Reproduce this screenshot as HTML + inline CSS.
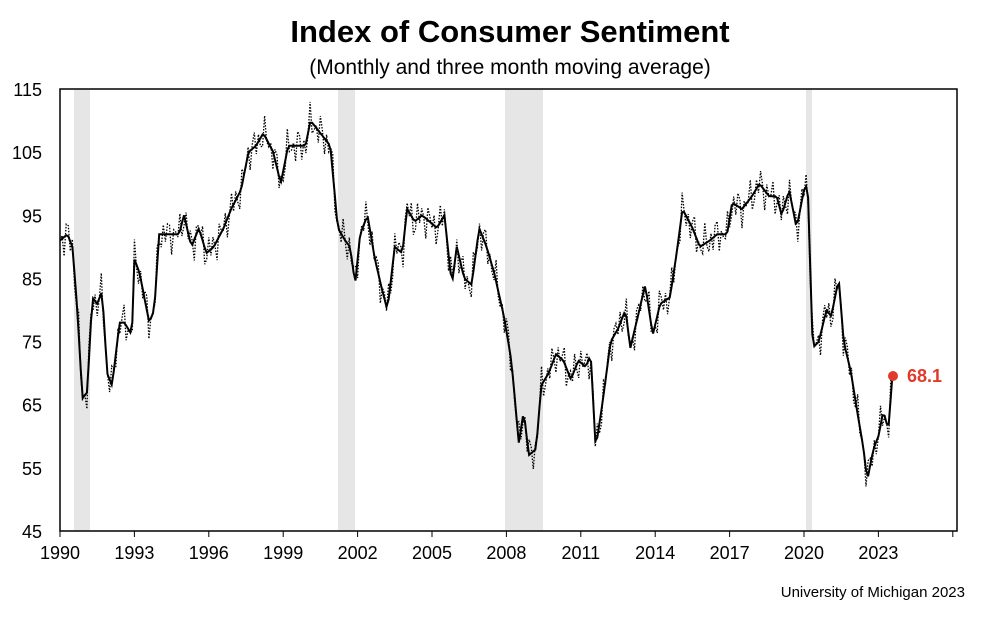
<!DOCTYPE html>
<html><head><meta charset="utf-8"><style>
body{margin:0;background:#fff;width:1000px;height:623px;overflow:hidden;font-family:"Liberation Sans",Arial,sans-serif}
</style></head><body>
<svg id="s" width="1000" height="623" xmlns="http://www.w3.org/2000/svg" font-family="Liberation Sans, Arial, sans-serif">
<text x="510" y="42" text-anchor="middle" font-size="31" font-weight="bold">Index of Consumer Sentiment</text>
<text x="510" y="74" text-anchor="middle" font-size="21">(Monthly and three month moving average)</text>
<g fill="#e6e6e6">
<rect x="74" y="89" width="16" height="442"/>
<rect x="338" y="89" width="17" height="442"/>
<rect x="505" y="89" width="38" height="442"/>
<rect x="806" y="89" width="6" height="442"/>
</g>
<rect x="60" y="89" width="897" height="442" fill="none" stroke="#000" stroke-width="1.5"/>
<g id="yl" font-size="18" text-anchor="end"></g>
<g id="xl" font-size="18" text-anchor="middle"></g>
<path id="dot" fill="none" stroke="#000" stroke-width="1.3" stroke-dasharray="1.5,1.5"/>
<path id="ln" fill="none" stroke="#000" stroke-width="2"/>
<circle cx="893" cy="376" r="5" fill="#e03a2a"/>
<text x="907" y="382" font-size="18" font-weight="bold" fill="#e03a2a">68.1</text>
<text x="965" y="597" text-anchor="end" font-size="15">University of Michigan 2023</text>
</svg>
<script>
var X=function(t){return 60+(t-1990)*24.8},Y=function(v){return 89+(115-v)*6.314};
var yl=document.getElementById('yl'),xl=document.getElementById('xl'),NS='http://www.w3.org/2000/svg';
for(var v=45;v<=115;v+=10){var t=document.createElementNS(NS,'text');t.setAttribute('x',42);t.setAttribute('y',Y(v)+7);t.textContent=v;yl.appendChild(t);}
for(var yr=1990;yr<=2026;yr+=3){var l=document.createElementNS(NS,'line');l.setAttribute('x1',X(yr));l.setAttribute('x2',X(yr));l.setAttribute('y1',531);l.setAttribute('y2',537);l.setAttribute('stroke','#000');xl.appendChild(l);
if(yr<2026){var t=document.createElementNS(NS,'text');t.setAttribute('x',X(yr));t.setAttribute('y',559);t.textContent=yr;xl.appendChild(t);}}
var a=[[1990,91],[1990.3,92],[1990.5,90],[1990.7,80],[1990.9,66],[1991.1,67],[1991.3,82],[1991.5,81],[1991.7,83],[1991.9,70],[1992.1,68],[1992.4,78],[1992.6,78],[1992.9,76],[1993,88],[1993.2,86],[1993.6,78],[1993.8,80],[1994,92],[1994.4,92],[1994.8,92],[1995,95],[1995.3,90],[1995.6,93],[1995.9,89],[1996.2,90],[1996.6,93],[1996.9,96],[1997.3,99],[1997.6,105],[1997.9,106],[1998.2,108],[1998.6,105],[1998.9,100],[1999.2,106],[1999.6,106],[1999.9,106],[2000.1,110],[2000.5,108],[2000.9,106],[2001.2,93],[2001.5,91],[2001.7,90],[2001.9,84],[2002.1,92],[2002.4,95],[2002.7,88],[2003,83],[2003.2,80],[2003.5,90],[2003.8,89],[2004,96],[2004.3,94],[2004.6,95],[2004.9,94],[2005.2,93],[2005.5,95],[2005.8,84],[2006,90],[2006.3,85],[2006.6,84],[2006.9,93],[2007.2,90],[2007.5,86],[2007.9,79],[2008.2,72],[2008.5,59],[2008.7,64],[2008.9,57],[2009.2,58],[2009.4,68],[2009.7,70],[2010,73],[2010.3,72],[2010.6,69],[2010.9,72],[2011.2,71],[2011.4,73],[2011.6,58],[2011.9,66],[2012.2,75],[2012.5,77],[2012.8,80],[2013,74],[2013.3,79],[2013.6,84],[2013.9,76],[2014.2,81],[2014.6,82],[2014.9,90],[2015.1,96],[2015.5,93],[2015.8,90],[2016.2,91],[2016.5,92],[2016.9,92],[2017.1,97],[2017.5,96],[2017.9,98],[2018.2,100],[2018.6,98],[2018.9,98],[2019.1,95],[2019.4,99],[2019.7,93],[2020,99],[2020.15,100],[2020.35,74],[2020.6,75],[2020.9,80],[2021.1,79],[2021.4,85],[2021.6,75],[2021.9,70],[2022.1,65],[2022.4,58],[2022.55,53],[2022.8,58],[2023,60],[2023.2,64],[2023.4,61],[2023.55,68.8]];
function f(t){for(var i=0;i<a.length-1;i++){if(t<=a[i+1][0]){var r=(t-a[i][0])/(a[i+1][0]-a[i][0]);return a[i][1]+r*(a[i+1][1]-a[i][1]);}}return a[a.length-1][1];}
var d1='',d2='';for(var m=0;m<=403;m++){var t=1990+m/12;if(t>2023.55)t=2023.55;var v=f(t),w=v+2.2*Math.sin(m*2.3)+1.2*Math.sin(m*5.1);
d1+=(m?'L':'M')+X(t).toFixed(1)+','+Y(v).toFixed(1);d2+=(m?'L':'M')+X(t).toFixed(1)+','+Y(w).toFixed(1);}
document.getElementById('ln').setAttribute('d',d1);document.getElementById('dot').setAttribute('d',d2);
</script>
</body></html>
